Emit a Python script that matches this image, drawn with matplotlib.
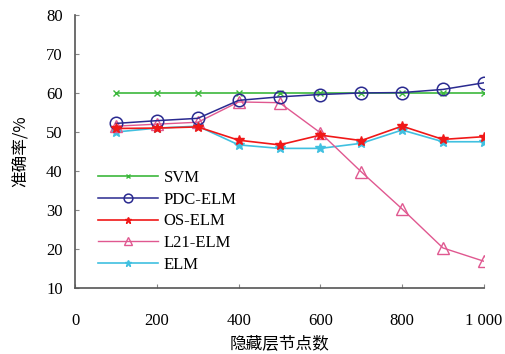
import matplotlib
matplotlib.use("Agg")
import matplotlib.pyplot as plt

nodes = [100, 200, 300, 400, 500, 600, 700, 800, 900, 1000]
svm = [60, 60, 60, 60, 60, 60, 60, 60, 60, 60]
pdc_elm = [52.2, 52.9, 53.5, 58.1, 59.0, 59.6, 60.0, 60.1, 60.9, 62.6]
os_elm = [50.9, 51.0, 51.3, 47.9, 46.7, 49.2, 47.8, 51.5, 48.1, 48.8]
l21_elm = [51.5, 52.0, 52.5, 57.7, 57.5, 49.8, 39.8, 30.3, 20.3, 16.9]
elm = [50.0, 51.0, 51.5, 46.7, 45.8, 45.8, 47.1, 50.5, 47.5, 47.5]
xticks = [0, 200, 400, 600, 800, 1000]
xtick_labels = ["0", "200", "400", "600", "800", "1 000"]
yticks = [10, 20, 30, 40, 50, 60, 70, 80]

serif = ["Liberation Serif", "DejaVu Serif"]
cjk = ["Noto Sans CJK SC", "DejaVu Sans"]

fig = plt.figure(figsize=(5.05, 3.54), dpi=100)
ax = fig.add_axes([0.149, 0.186, 0.809, 0.772])

ax.plot(nodes, svm, color="#3cb83c", marker="x", ms=5, lw=1.2, label="SVM", zorder=3)
ax.plot(nodes, pdc_elm, color="#2a2a90", marker="o", ms=9, mfc="none", mew=1.1, lw=1.1, label="PDC-ELM", zorder=4)
ax.plot(nodes, os_elm, color="#f01818", marker="*", ms=7, lw=1.2, label="OS-ELM", zorder=5)
ax.plot(nodes, l21_elm, color="#e05890", marker="^", ms=9, mfc="none", mew=1.0, lw=1.0, label="L21-ELM", zorder=3)
ax.plot(nodes, elm, color="#40c0e0", marker="*", ms=7, lw=1.2, label="ELM", zorder=2)

ax.set_xlim(0, 1000)
ax.set_ylim(10, 80)
ax.set_xticks(xticks)
ax.set_xticklabels(xtick_labels)
ax.set_yticks(yticks)
for lab in ax.get_xticklabels() + ax.get_yticklabels():
    lab.set_family(serif)
    lab.set_fontsize(12)
ax.tick_params(direction="in", length=3, color="#888888")
ax.tick_params(axis="x", pad=18)
ax.tick_params(axis="y", pad=9)
ax.spines["top"].set_visible(False)
ax.spines["right"].set_visible(False)
for s in ["left", "bottom"]:
    ax.spines[s].set_color("#555555")
    ax.spines[s].set_linewidth(1.2)

ax.set_xlabel("隐藏层节点数", family=cjk, fontsize=12, labelpad=4)
ax.set_ylabel("准确率/%", family=cjk, fontsize=12, labelpad=12)

leg = ax.legend(loc="lower left", bbox_to_anchor=(0.02, 0.0), frameon=False,
                prop={"family": serif, "size": 12}, handlelength=3.6,
                labelspacing=0.35, handletextpad=0.3, markerscale=0.7)

fig.savefig("out.png", dpi=100)
